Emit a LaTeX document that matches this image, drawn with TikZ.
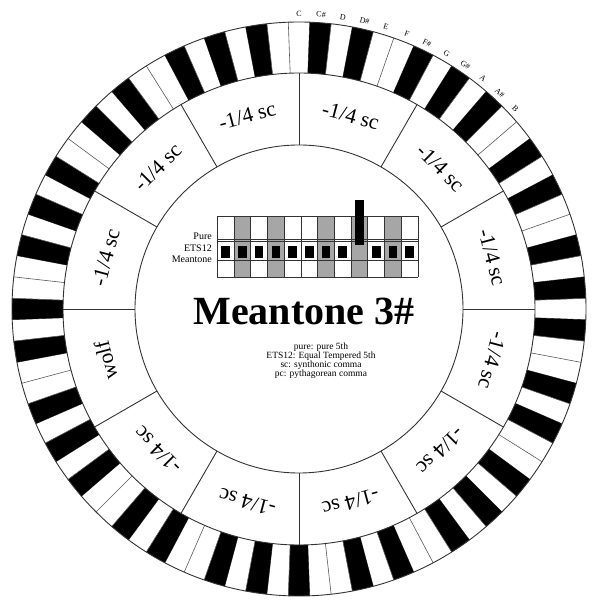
\documentclass[tikz,border=0pt]{standalone}
\usepackage{fontspec}
\setmainfont{Liberation Serif}
\usepackage{tikz}
\newcommand{\quartsc}{-1/4 sc}

\begin{document}
\begin{tikzpicture}[x=1pt,y=1pt,
  keyline/.style={draw=black!65,line width=0.6pt},
  ringline/.style={draw=black!80,line width=0.9pt},
  gridline/.style={draw=black!80,line width=0.9pt},
  segtext/.style={font={\fontsize{21.5}{22}\selectfont}},
  notetext/.style={font={\fontsize{8}{8}\selectfont},anchor=south},
  rowtext/.style={font={\fontsize{10}{10}\selectfont},anchor=east,inner sep=0pt}]
  \useasboundingbox (-299,-292) rectangle (297,309);
  \foreach \k in {0,...,83}{
    \pgfmathsetmacro{\lo}{90-\k*4.285714-2.142857}
    \pgfmathsetmacro{\hi}{\lo+4.285714}
    \pgfmathtruncatemacro{\m}{mod(\k,12)}
    \pgfmathtruncatemacro{\blk}{(\m==1)||(\m==3)||(\m==6)||(\m==8)||(\m==10)}
    \ifnum\blk=1
      \fill[black] (\lo:236) -- (\lo:287) arc[start angle=\lo,end angle=\hi,radius=287]
        -- (\hi:236) arc[start angle=\hi,end angle=\lo,radius=236] -- cycle;
    \fi
    \draw[keyline] (\lo:236) -- (\lo:287);
  }
  \draw[ringline] (0,0) circle[radius=287];
  \draw[ringline] (0,0) circle[radius=236];
  \draw[ringline] (0,0) circle[radius=164];
  \foreach \s in {0,30,...,330}
    \draw[ringline] (\s:164) -- (\s:236);
  \foreach \s/\t in {15/\quartsc,45/\quartsc,75/\quartsc,105/\quartsc,135/\quartsc,165/\quartsc,
                     195/wolf,225/\quartsc,255/\quartsc,285/\quartsc,315/\quartsc,345/\quartsc}
    \node[segtext,rotate=\s-90] (seg\s) at (\s:200) {\t};
  \foreach \n [count=\i from 0] in {C,C\#,D,D\#,E,F,F\#,G,G\#,A,A\#,B}{
    \pgfmathsetmacro{\a}{90-\i*4.285714}
    \node[notetext,rotate=\a-90] (note\i) at (\a:289) {\n};
  }
  \foreach \c in {0,...,11}{
    \pgfmathsetmacro{\xa}{-81.7+\c*16.73}
    \pgfmathsetmacro{\xb}{\xa+16.73}
    \pgfmathsetmacro{\xm}{\xa+8.365}
    \pgfmathtruncatemacro{\gr}{(\c==1)||(\c==3)||(\c==6)||(\c==8)||(\c==10)}
    \ifnum\gr=1
      \fill[black!35] (\xa,32) rectangle (\xb,93);
    \fi
    \ifnum\c=8\else
      \fill[black] (\xm-4.3,51) rectangle (\xm+4.3,63);
    \fi
  }
  \foreach \c in {0,...,12}
    \draw[gridline] ({-81.7+\c*16.73},32) -- ({-81.7+\c*16.73},93);
  \foreach \y in {93,70,67.5,49,32}
    \draw[gridline] (-81.7,\y) -- (119,\y);
  \fill[black] ({-81.7+8*16.73+8.365-4.5},64) rectangle ({-81.7+8*16.73+8.365+4.5},109);
  \node[rowtext] (pure) at (-87,73) {Pure};
  \node[rowtext] (ets) at (-87,61) {ETS12};
  \node[rowtext] (mean) at (-87,50) {Meantone};
  \node[font={\bfseries\fontsize{40}{40}\selectfont},anchor=base] (title) at (5,-16) {Meantone 3\#};
  \node[font={\fontsize{9.5}{9}\selectfont},align=center] (legend) at (22,-52)
    {pure: pure 5th\\ETS12: Equal Tempered 5th\\sc: synthonic comma\\pc: pythagorean comma};
\end{tikzpicture}
\end{document}
